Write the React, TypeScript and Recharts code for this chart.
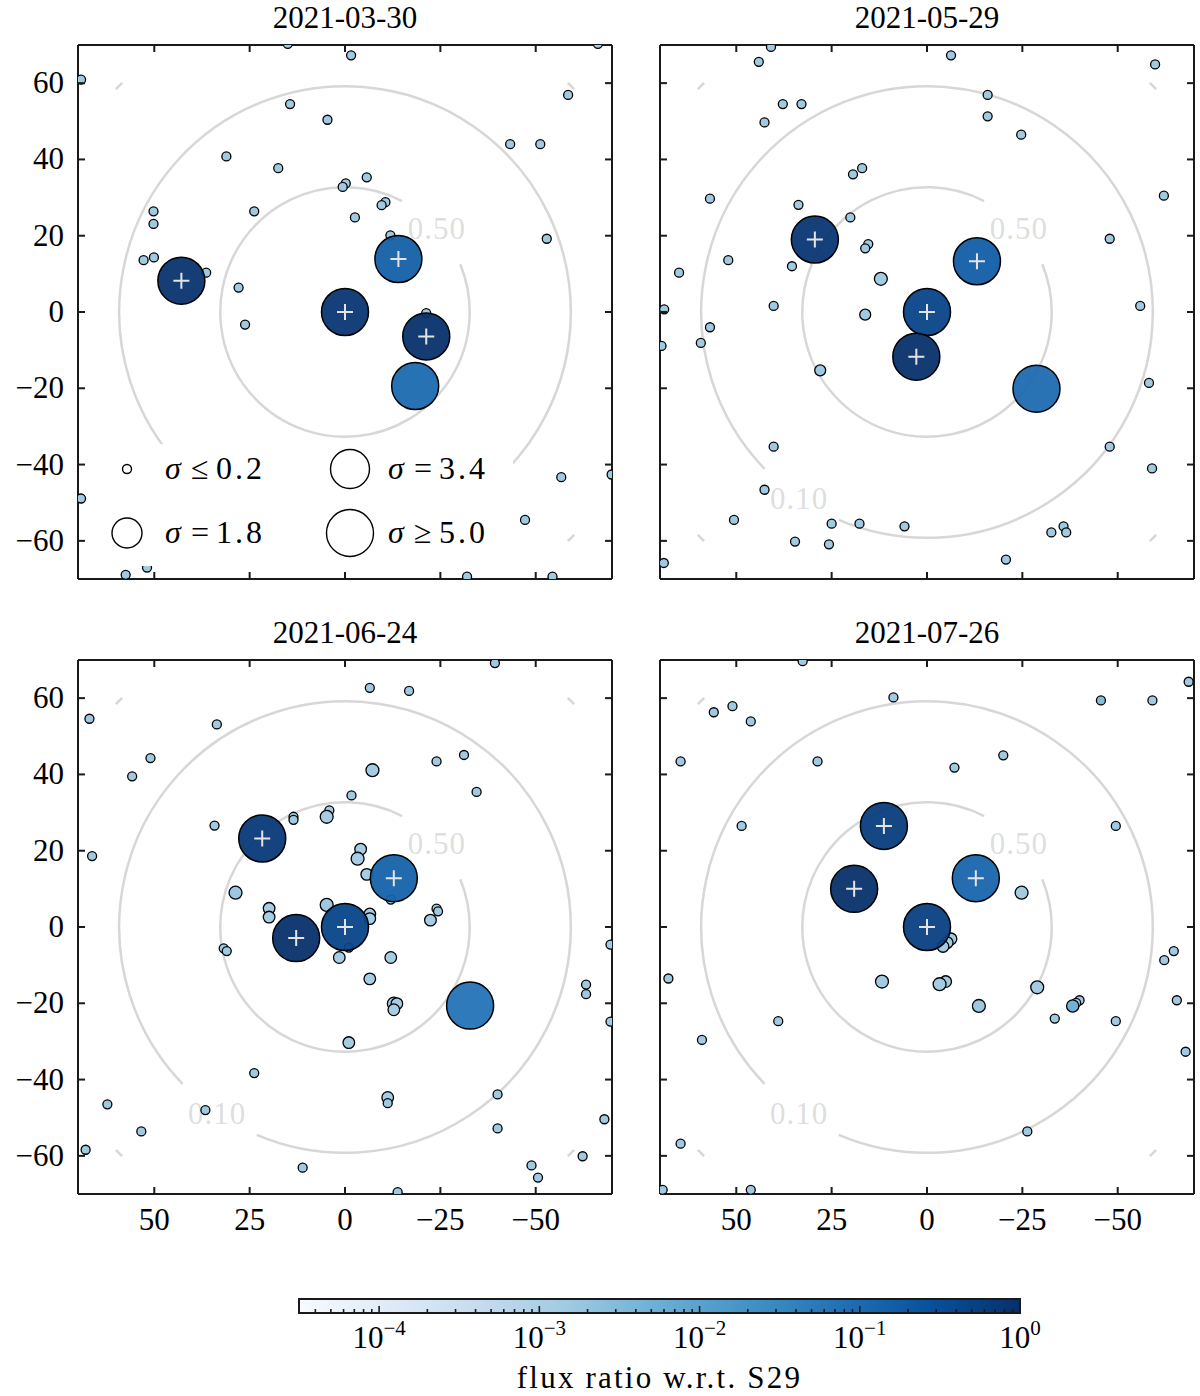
import React from 'react';
import { ScatterChart, Scatter, XAxis, YAxis, ReferenceLine, ReferenceArea, Legend } from 'recharts';

const FONT = "'Liberation Serif', 'DejaVu Serif', serif";

// ---------- axes / labels ----------
const TITLES = ['2021-03-30', '2021-05-29', '2021-06-24', '2021-07-26'];
const X_TICKS = [50, 25, 0, -25, -50];
const Y_TICKS = [60, 40, 20, 0, -20, -40, -60];
const AXIS_DOMAIN: [number, number] = [-70, 70];
const CB_LABEL = 'flux ratio w.r.t. S29';
const CB_LOG_MIN = -4.5;
const CB_LOG_MAX = 0;

// ---------- legend (sigma -> marker size) ----------
const LEGEND_SIGMAS = [0.2, 1.8, 3.4, 5.0];
const LEGEND_RELS = ['\u2264', '=', '=', '\u2265'];
const LEGEND_VALUES = ['0.2', '1.8', '3.4', '5.0'];
const SIGMA_RADII = [4.5, 15, 19.5, 23.5];

// ---------- contour levels (radius in arcsec, visible arcs in degrees) ----------
const CONTOURS = [
  { level: '0.50', r: 32.7, arcs: [[62.8, 382.5]], labelAngle: 42.6 },
  { level: '0.10', r: 59.2, arcs: [[247, 584]], labelAngle: 235.5 },
  { level: '', r: 83.8, arcs: [[44.2, 45.8], [134.2, 135.8], [224.2, 225.8], [314.2, 315.8]], labelAngle: null as number | null },
];

// ---------- sources: [x, y, sigma?, flux?] ----------
const SMALL_SIGMA = 0.2;
const SMALL_FLUX = 0.0015;

const small0330 = [
  [15, 70.3], [-1.6, 67.3], [69.2, 60.9], [-66.3, 70.3], [14.4, 54.5], [4.6, 50.4], [-58.5, 56.9],
  [-43.3, 44.0], [-51.2, 44.0], [31.1, 40.8], [17.5, 37.7], [-0.2, 33.7], [0.6, 32.8], [-5.7, 35.3],
  [-10.6, 28.8], [-9.6, 28.0], [50.2, 26.4], [23.8, 26.4], [-2.6, 24.8], [50.2, 23.1], [-52.9, 19.2],
  [-11.9, 20.1], [52.8, 13.6], [50.1, 14.3], [36.4, 10.3], [27.9, 6.4], [26.2, -3.3], [-21.3, -0.3],
  [-56.7, -43.3], [-69.9, -42.6], [69.2, -48.9], [-47.2, -54.5], [57.5, -68.9], [51.9, -67.0],
  [-32.0, -69.4], [-54.4, -69.4],
];
// [x, y, sigma, flux, marked]
const big0330 = [
  [42.9, 8.2, 5, 0.9, 1], [0, 0, 5, 0.8, 1], [-14.0, 13.9, 5, 0.15, 1], [-21.3, -6.4, 5, 1, 1], [-18.4, -19.4, 5, 0.1, 0],
];

const small0529 = [
  [40.9, 69.5], [44.1, 65.6], [-6.3, 67.3], [-59.8, 64.9], [37.8, 54.5], [32.9, 54.5], [42.6, 49.7],
  [-15.9, 56.9], [-15.9, 51.3], [-24.7, 46.5], [17.0, 37.7], [19.4, 36.1], [56.9, 29.7], [33.7, 28.1],
  [20.1, 24.8], [-62.1, 30.5], [-47.9, 19.2], [15.4, 17.8], [16.2, 16.7], [52.1, 13.6], [65.0, 10.3],
  [35.4, 12.0], [12.1, 8.7, 0.5, 0.0013], [68.9, 0.7], [40.2, 1.6], [16.2, -0.7, 0.35], [-55.9, 1.6],
  [56.9, -4.0], [69.6, -8.9], [59.3, -8.1], [28.0, -15.3, 0.35], [-58.2, -18.6], [40.2, -35.3], [-47.9, -35.3],
  [-59.0, -41.0], [42.6, -46.6], [50.6, -54.5], [25.0, -55.5], [17.7, -55.5], [5.9, -56.2], [-35.8, -56.2],
  [-32.6, -57.8], [-36.5, -57.8], [34.6, -60.2], [25.7, -60.9], [69.0, -65.8], [-20.7, -64.9],
];
const big0529 = [
  [29.4, 19.0, 5, 0.8, 1], [0, 0, 5, 0.45, 1], [-13.1, 13.3, 5, 0.16, 1], [2.8, -11.7, 5, 1, 1], [-28.7, -20.1, 5, 0.09, 0],
];

const small0624 = [
  [-39.3, 69.2], [-6.5, 62.7], [-16.8, 61.9], [67.0, 54.6], [33.6, 53.1], [51.0, 44.3], [55.8, 39.5],
  [-24.0, 43.4], [-31.2, 45.1], [-7.2, 41.1, 0.5, 0.0013], [-34.5, 35.4], [-1.7, 34.5], [4.1, 30.6],
  [4.8, 28.9, 0.5, 0.0012], [13.5, 28.9], [13.5, 28.1], [34.2, 26.6], [66.3, 18.6], [-4.1, 20.4, 0.4, 0.0012],
  [-3.3, 17.9, 0.5, 0.0012], [-5.7, 13.8, 0.4, 0.0012], [-12.0, 7.2], [28.7, 9.0, 0.5, 0.0016],
  [19.9, 4.9, 0.4, 0.0012], [19.9, 2.6, 0.4, 0.0012], [4.8, 5.8, 0.5, 0.0016], [-6.5, 3.4, 0.4, 0.0012],
  [-6.5, 2.2, 0.4, 0.0012], [-24.0, 4.8], [-24.4, 4.1], [-22.4, 1.8, 0.4, 0.0012], [31.8, -5.6], [31.0, -6.3],
  [-1.0, -5.4], [1.5, -8.0, 0.4, 0.0012], [-12.0, -8.0, 0.4, 0.0012], [-69.6, -4.6], [-6.5, -13.6, 0.4, 0.0012],
  [-63.2, -15.1], [-63.2, -17.6], [-69.6, -24.8], [-12.8, -20.1, 0.5, 0.0012], [-13.6, -20.1, 0.4, 0.0012],
  [-12.8, -21.7, 0.4, 0.0012], [-1.0, -30.3, 0.4, 0.0012], [23.8, -38.3], [-11.2, -44.7, 0.4, 0.0012],
  [-11.2, -46.2], [-40.0, -43.9], [62.3, -46.5], [36.6, -48.0], [53.4, -53.6], [-40.0, -52.8], [-68.0, -50.4],
  [68.0, -58.4], [-62.3, -60.1], [11.1, -63.1], [-48.9, -62.5], [-50.6, -65.7], [-13.8, -69.5],
];
const big0624 = [
  [21.7, 23.2, 5, 0.7, 1], [0, 0, 5, 0.45, 1], [-12.8, 12.8, 5, 0.14, 1], [12.8, -2.9, 5, 1, 1], [-32.8, -20.6, 5, 0.07, 0],
];

const small0726 = [
  [32.6, 69.7], [8.8, 60.2], [55.9, 56.3], [51.0, 57.9], [46.2, 53.9], [64.6, 43.4], [28.7, 43.4],
  [-7.2, 41.8], [-20.0, 45.0], [-45.6, 59.4, 0.2, 0.003], [-59.1, 59.4], [-68.6, 64.3], [48.6, 26.5],
  [-49.5, 26.5], [-24.8, 9.0, 0.5, 0.0013], [-6.3, -3.1, 0.4, 0.0013], [-5.3, -4.1, 0.4, 0.0013],
  [-4.2, -5.1, 0.4, 0.0013], [67.8, -13.5], [11.8, -14.3, 0.5, 0.0013], [-4.9, -14.3, 0.4, 0.0013],
  [-3.3, -15.0, 0.5, 0.0013], [-13.6, -20.7, 0.5, 0.0016], [-28.9, -15.8, 0.5, 0.0013], [-64.7, -6.3],
  [-62.2, -8.7], [-65.5, -19.2], [-40.0, -19.2], [-39.1, -19.9], [-38.2, -20.7, 0.45, 0.005],
  [-33.5, -24.0], [-49.5, -24.7], [-67.8, -32.7], [39.0, -24.7], [59.0, -29.6], [-26.3, -53.6],
  [64.6, -56.8], [69.3, -68.9], [46.2, -68.9],
];
const big0726 = [
  [11.3, 26.5, 5, 0.6, 1], [0, 0, 5, 0.55, 1], [-12.8, 12.8, 5, 0.12, 1], [19.1, 10.0, 5, 1, 1],
];

// ---------- helpers ----------
const BLUES = ['#f7fbff', '#deebf7', '#c6dbef', '#9ecae1', '#6baed6', '#4292c6', '#2171b5', '#08519c', '#08306b'];

function hexRgb(h: string) {
  return [parseInt(h.slice(1, 3), 16), parseInt(h.slice(3, 5), 16), parseInt(h.slice(5, 7), 16)];
}
function fluxColor(f: number) {
  const t = Math.min(1, Math.max(0, (Math.log10(f) - CB_LOG_MIN) / (CB_LOG_MAX - CB_LOG_MIN)));
  const p = t * (BLUES.length - 1);
  const i = Math.min(BLUES.length - 2, Math.floor(p));
  const u = p - i;
  const a = hexRgb(BLUES[i]);
  const b = hexRgb(BLUES[i + 1]);
  const c = a.map((v, k) => Math.round(v + (b[k] - v) * u));
  return `rgb(${c[0]},${c[1]},${c[2]})`;
}
function sigmaRadius(s: number) {
  if (s <= LEGEND_SIGMAS[0]) return SIGMA_RADII[0];
  for (let i = 0; i < LEGEND_SIGMAS.length - 1; i++) {
    if (s <= LEGEND_SIGMAS[i + 1]) {
      const u = (s - LEGEND_SIGMAS[i]) / (LEGEND_SIGMAS[i + 1] - LEGEND_SIGMAS[i]);
      return SIGMA_RADII[i] + u * (SIGMA_RADII[i + 1] - SIGMA_RADII[i]);
    }
  }
  return SIGMA_RADII[SIGMA_RADII.length - 1];
}
const fmt = (v: number) => (v < 0 ? '\u2212' + Math.abs(v) : String(v));

function toSmall(rows: number[][]) {
  return rows.map((r) => ({ x: r[0], y: r[1], s: r[2] ?? SMALL_SIGMA, f: r[3] ?? SMALL_FLUX, m: 0 }));
}
function toBig(rows: number[][]) {
  return rows.map((r) => ({ x: r[0], y: r[1], s: r[2], f: r[3], m: r[4] }));
}

const INK = '#1a1a1a';
const TICK_FONT = 31;

function Marker(props: any) {
  const { cx, cy, payload } = props;
  if (cx == null || cy == null) return null;
  const r = sigmaRadius(payload.s);
  const big = payload.s >= 5;
  return (
    <g>
      <circle cx={cx} cy={cy} r={r} fill={fluxColor(payload.f)} fillOpacity={big ? 0.95 : 1} stroke="#000" strokeWidth={big ? 1.5 : 1.3} />
      {payload.m ? (
        <path d={`M${cx - 8},${cy}H${cx + 8}M${cx},${cy - 8}V${cy + 8}`} stroke="#e4e4e4" strokeWidth={2} />
      ) : null}
    </g>
  );
}

function makeContourShape(c: (typeof CONTOURS)[number], showLabel: boolean) {
  return (props: any) => {
    const { x1, y1, x2 } = props;
    if (x1 == null || y1 == null || x2 == null) return <g />;
    const R = Math.abs(x2 - x1);
    const pt = (a: number) => [x1 + R * Math.cos((a * Math.PI) / 180), y1 - R * Math.sin((a * Math.PI) / 180)];
    const d = c.arcs
      .map(([a, b]) => {
        const [sx, sy] = pt(a);
        const [ex, ey] = pt(b);
        const large = b - a > 180 ? 1 : 0;
        return `M${sx.toFixed(2)},${sy.toFixed(2)}A${R.toFixed(2)},${R.toFixed(2)} 0 ${large} 0 ${ex.toFixed(2)},${ey.toFixed(2)}`;
      })
      .join('');
    let label = null;
    if (showLabel && c.labelAngle != null && c.level) {
      const [lx, ly] = pt(c.labelAngle);
      label = (
        <text x={lx} y={ly} dy="0.36em" textAnchor="middle" fontFamily={FONT} fontSize={TICK_FONT} letterSpacing={1} fill="#a0a0a0" fillOpacity={0.36}>
          {c.level}
        </text>
      );
    }
    return (
      <g>
        <path d={d} fill="none" stroke="#a0a0a0" strokeOpacity={0.42} strokeWidth={2.5} />
        {label}
      </g>
    );
  };
}

const TICK_LEN = 7;

function makeAxisTick(side: 'bottom' | 'top' | 'left' | 'right', labels: boolean) {
  return (props: any) => {
    const { x, y, payload } = props;
    let line;
    let text = null;
    if (side === 'bottom') {
      line = <line x1={x} y1={y} x2={x} y2={y - TICK_LEN} />;
      if (labels)
        text = (
          <text x={x} y={y + 36} textAnchor="middle" fontFamily={FONT} fontSize={TICK_FONT} fill="#000" stroke="none">
            {fmt(payload.value)}
          </text>
        );
    } else if (side === 'top') {
      line = <line x1={x} y1={y} x2={x} y2={y + TICK_LEN} />;
    } else if (side === 'left') {
      line = <line x1={x} y1={y} x2={x + TICK_LEN} y2={y} />;
      if (labels)
        text = (
          <text x={x - 14} y={y + 10} textAnchor="end" fontFamily={FONT} fontSize={TICK_FONT} fill="#000" stroke="none">
            {fmt(payload.value)}
          </text>
        );
    } else {
      line = <line x1={x} y1={y} x2={x - TICK_LEN} y2={y} />;
    }
    return (
      <g stroke={INK} strokeWidth={2}>
        {line}
        {text}
      </g>
    );
  };
}

function LegendBox() {
  return (
    <svg width={420} height={122} style={{ display: 'block', background: '#fff' }}>
      {LEGEND_SIGMAS.map((s, i) => {
        const col = Math.floor(i / 2);
        const row = i % 2;
        const cx = 34 + col * 223;
        const cy = 25 + row * 64;
        const tx = cx + 38;
        return (
          <g key={i}>
            <circle cx={cx} cy={cy} r={sigmaRadius(s)} fill="#fff" stroke="#000" strokeWidth={1.4} />
            <text y={cy + 10} fontFamily={FONT} fontSize={32} fill="#000">
              <tspan x={tx} fontStyle="italic">{'\u03c3'}</tspan>
              <tspan x={tx + 26}>{LEGEND_RELS[i]}</tspan>
              <tspan x={tx + 51} letterSpacing={3}>{LEGEND_VALUES[i]}</tspan>
            </text>
          </g>
        );
      })}
    </svg>
  );
}

const PANEL_W = 618;
const PANEL_H = 640;
const PANEL_MARGIN = { top: 44, right: 5, bottom: 60, left: 77 };
const PLOT_LEFT = 78;
const PLOT_W = 534;
const AXIS_LINE = { stroke: INK, strokeWidth: 2 };

function Panel(props: {
  small: any[];
  big: any[];
  title: string;
  left: number;
  top: number;
  showX: boolean;
  showY: boolean;
  legend: boolean;
}) {
  const { small, big, title, left, top, showX, showY, legend } = props;
  return (
    <div style={{ position: 'absolute', left, top, width: PANEL_W, height: PANEL_H }}>
      <div
        style={{
          position: 'absolute',
          left: PLOT_LEFT,
          top: 0,
          width: PLOT_W,
          textAlign: 'center',
          fontFamily: FONT,
          fontSize: 31,
          lineHeight: '35px',
          color: '#000',
          zIndex: 2,
        }}
      >
        {title}
      </div>
      <ScatterChart width={PANEL_W} height={PANEL_H} margin={PANEL_MARGIN}>
        <XAxis xAxisId="b" type="number" dataKey="x" orientation="bottom" domain={AXIS_DOMAIN} reversed allowDataOverflow
          ticks={X_TICKS} interval={0} height={1} tickSize={0} tickMargin={0} tickLine={false} axisLine={AXIS_LINE}
          tick={makeAxisTick('bottom', showX)} />
        <XAxis xAxisId="t" type="number" dataKey="x" orientation="top" domain={AXIS_DOMAIN} reversed allowDataOverflow
          ticks={X_TICKS} interval={0} height={1} tickSize={0} tickMargin={0} tickLine={false} axisLine={AXIS_LINE}
          tick={makeAxisTick('top', false)} />
        <YAxis yAxisId="l" type="number" dataKey="y" orientation="left" domain={AXIS_DOMAIN} allowDataOverflow
          ticks={Y_TICKS} interval={0} width={1} tickSize={0} tickMargin={0} tickLine={false} axisLine={AXIS_LINE}
          tick={makeAxisTick('left', showY)} />
        <YAxis yAxisId="r" type="number" dataKey="y" orientation="right" domain={AXIS_DOMAIN} allowDataOverflow
          ticks={Y_TICKS} interval={0} width={1} tickSize={0} tickMargin={0} tickLine={false} axisLine={AXIS_LINE}
          tick={makeAxisTick('right', false)} />
        {CONTOURS.map((c, i) => (
          <ReferenceLine key={'c' + i} xAxisId="b" yAxisId="l" ifOverflow="visible" zIndex={50}
            segment={[{ x: 0, y: 0 }, { x: c.r, y: 0 }]}
            shape={makeContourShape(c, !(legend && c.labelAngle != null && c.labelAngle > 180))} />
        ))}
        <Scatter xAxisId="b" yAxisId="l" data={small} isAnimationActive={false} shape={(p: any) => <Marker {...p} />} />
        <Scatter xAxisId="b" yAxisId="l" data={big} isAnimationActive={false} shape={(p: any) => <Marker {...p} />} />
        {legend ? (
          <Legend layout="horizontal" verticalAlign="middle" align="center"
            content={() => <LegendBox />}
            wrapperStyle={{ left: 93, top: 444, width: 420, height: 122, backgroundColor: '#fff', margin: 0, padding: 0 }} />
        ) : null}
      </ScatterChart>
    </div>
  );
}

// ---------- colorbar ----------
const CB_MIN = Math.pow(10, CB_LOG_MIN);
const CB_MAX = Math.pow(10, CB_LOG_MAX);
const CB_MANTISSAS = [1, 2, 3, 4, 5, 6, 7, 8, 9];
const CB_TICKS: number[] = [];
for (let e = Math.floor(CB_LOG_MIN); e <= CB_LOG_MAX; e++) {
  for (const m of CB_MANTISSAS) {
    const v = m * Math.pow(10, e);
    if (v >= CB_MIN && v <= CB_MAX * 1.0000001) CB_TICKS.push(v);
  }
}
const CB_ENDS = [{ x: CB_MIN, y: 0.5 }, { x: CB_MAX, y: 0.5 }];

function CbTick(props: any) {
  const { x, y, payload } = props;
  const lg = Math.log10(payload.value);
  const major = Math.abs(lg - Math.round(lg)) < 1e-6;
  return (
    <g>
      <line x1={x} y1={y} x2={x} y2={y - (major ? 7 : 4)} stroke={INK} strokeWidth={1.6} />
      {major ? (
        <text x={x} y={y + 35} textAnchor="middle" fontFamily={FONT} fontSize={TICK_FONT} fill="#000">
          10
          <tspan dy={-13} fontSize={21}>
            {fmt(Math.round(lg))}
          </tspan>
        </text>
      ) : null}
    </g>
  );
}

function Colorbar() {
  return (
    <div style={{ position: 'absolute', left: 0, top: 1270, width: 1200, height: 126 }}>
      <ScatterChart width={1200} height={126} margin={{ top: 29, right: 180, bottom: 82, left: 299 }}>
        <defs>
          <linearGradient id="cbGrad" x1="0" y1="0" x2="1" y2="0">
            {BLUES.map((c, i) => (
              <stop key={i} offset={`${(i / (BLUES.length - 1)) * 100}%`} stopColor={c} />
            ))}
          </linearGradient>
        </defs>
        <XAxis type="number" dataKey="x" scale="log" domain={[CB_MIN, CB_MAX]} allowDataOverflow ticks={CB_TICKS}
          interval={0} height={1} tickSize={0} tickMargin={0} tickLine={false} axisLine={false} tick={<CbTick />} />
        <YAxis type="number" dataKey="y" domain={[0, 1]} hide width={0} />
        <ReferenceArea x1={CB_MIN} x2={CB_MAX} y1={0} y2={1} ifOverflow="visible" fill="url(#cbGrad)" fillOpacity={1} stroke={INK} strokeWidth={2} />
        <Scatter data={CB_ENDS} isAnimationActive={false} shape={() => <g />} />
      </ScatterChart>
      <div
        style={{
          position: 'absolute',
          left: 299,
          top: 93,
          width: 721,
          textAlign: 'center',
          fontFamily: FONT,
          fontSize: 31,
          letterSpacing: '2.2px',
          lineHeight: '30px',
          color: '#000',
        }}
      >
        {CB_LABEL}
      </div>
    </div>
  );
}

export default function App() {
  const panels = [
    { small: toSmall(small0330), big: toBig(big0330), left: 0, top: 0, showX: false, showY: true, legend: true },
    { small: toSmall(small0529), big: toBig(big0529), left: 582, top: 0, showX: false, showY: false, legend: false },
    { small: toSmall(small0624), big: toBig(big0624), left: 0, top: 615, showX: true, showY: true, legend: false },
    { small: toSmall(small0726), big: toBig(big0726), left: 582, top: 615, showX: true, showY: false, legend: false },
  ];
  return (
    <div style={{ position: 'absolute', left: 0, top: 0, width: 1200, height: 1396, background: '#fff', overflow: 'hidden' }}>
      {panels.map((p, i) => (
        <Panel key={i} {...p} title={TITLES[i]} />
      ))}
      <Colorbar />
    </div>
  );
}
